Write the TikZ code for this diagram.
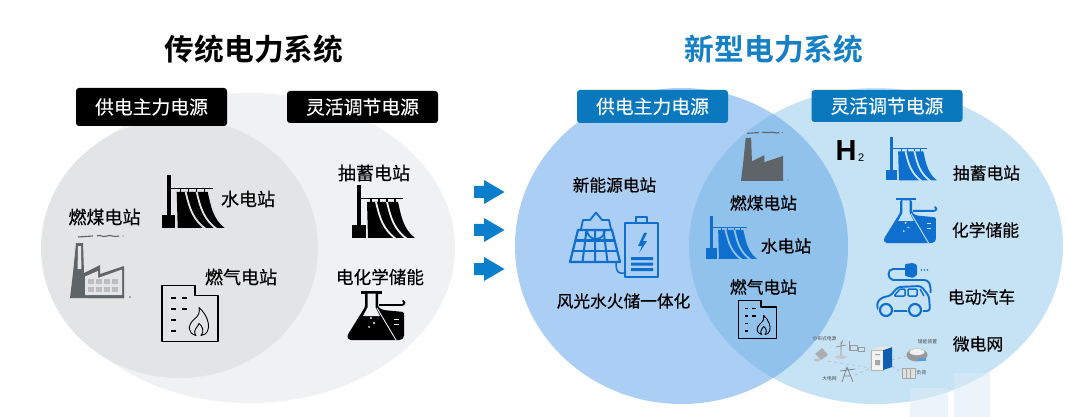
\documentclass[tikz,border=0pt]{standalone}
\usepackage{fontspec}
\setmainfont{Noto Sans CJK SC}[BoldFont={Noto Sans CJK SC Bold}]
\newfontfamily\medcjk{Noto Sans CJK SC}[FakeBold=0.45]
\newfontfamily\tagcjk{Noto Sans CJK SC}[FakeBold=0.2]
\newfontfamily\latinb{Liberation Sans Bold}
\newfontfamily\latinr{Liberation Sans}
\definecolor{gdark}{HTML}{E3E4E6}
\definecolor{glight}{HTML}{F0F1F3}
\definecolor{bleft}{HTML}{ABCFF4}
\definecolor{bright}{HTML}{C6E2F5}
\definecolor{boverlap}{HTML}{90C2EC}
\definecolor{badge}{HTML}{0A78BD}
\definecolor{iconblue}{HTML}{0F6FCF}
\definecolor{titleblue}{HTML}{1580C4}
\definecolor{facgray}{HTML}{5F6468}
\definecolor{arrowblue}{HTML}{0A80CC}
\definecolor{wmark}{HTML}{DCECF7}
\newcommand{\damicon}[5]{% x y scale colour bg
\begin{scope}[shift={(#1,#2)},scale=#3]
\fill[#4] (5,0) rectangle (9,42);
\fill[#4] (0,40) rectangle (13.5,53);
\fill[#4] (9,13) rectangle (51,14.5);
\foreach \q in {18,26,34,42}{\fill[#4] (\q,14) rectangle (\q+1.5,19);}
\fill[#4] (15,17) -- (46,17) .. controls (49,30) and (51,44) .. (63,53) -- (16,53) -- cycle;
\draw[#5,line width=1.8pt] (24,17) .. controls (28,34) and (31,44) .. (44,54);
\draw[#5,line width=1.8pt] (35,17) .. controls (39,34) and (42,44) .. (55,54);
\end{scope}}
\newcommand{\flaskicon}[5]{%
\begin{scope}[shift={(#1,#2)},scale=#3]
\fill[#4] (14,0) rectangle (35,2.6);
\fill[#4,rounded corners=1.5pt] (18,2) -- (18,16) -- (0,45) -- (2,49) -- (54,49) -- (57,46) -- (57,21) -- (36,19) -- (31,16) -- (31,2) -- cycle;
\fill[#5] (20.5,2.6) -- (28.5,2.6) -- (28.5,16.5) -- (33,25) -- (16,25) -- (20.5,16.5) -- cycle;
\fill[#5] (24,21) circle (.9) (24,27) circle (1.1) (27,32) circle (1.1) (22,36) circle (1);
\draw[#5,line width=.9pt] (30,17) -- (49,49);
\draw[#5,line width=1pt] (47,28) -- (52,28) (47,33) -- (52,33);
\draw[#4,line width=1.8pt] (32,14) -- (55,14) arc (90:-70:2.4);
\end{scope}}
\newcommand{\factoryicon}[5]{%
\begin{scope}[shift={(#1,#2)},scale=#3]
\fill[#4] (6,0) -- (13,0) -- (14,30) -- (30,22) -- (30,31) -- (54,23) -- (54,55) -- (0,55) -- (3,30) -- cycle;
\fill[#5] (8,3) -- (11,3) -- (11.4,26) -- (7.6,26) -- cycle;
\fill[#5] (15,33.5) -- (28,28) -- (28,35) -- (52,26.5) -- (52,52) -- (15,52) -- cycle;
\foreach \xa in {18,26,34,42}\foreach \ya in {36,44}{\fill[#4!30!#5] (\xa,\ya) rectangle +(5.5,4.5);}
\fill[#4] (18,52.5) rectangle (54,55) (60,54) circle (.8);
\draw[#4,line width=1.1pt] (8,-6) -- (23,-7);
\draw[#4,line width=1.1pt] (27,-7) .. controls (30,-9) and (33,-5) .. (37,-7) .. controls (40,-9) and (44,-5) .. (49,-7);
\fill[#4] (53,-7) circle (.7);
\end{scope}}
\newcommand{\buildingicon}[5]{%
\begin{scope}[shift={(#1,#2)},scale=#3]
\draw[#4,line width=1.7pt,line join=round] (0,0) -- (33,0) -- (33,10) -- (56,10) -- (56,56) -- (0,56) -- cycle;
\foreach \xa/\ya in {9/11,20/11,9/22,20/22,9/33,9/44}{\fill[#4] (\xa,\ya) rectangle +(5,2);}
\draw[#4,line width=.9pt,line join=round] (34,50) .. controls (26,48) and (25,40) .. (32,34) .. controls (37,30) and (38,27) .. (37,22) .. controls (44,28) and (48,38) .. (46,44) .. controls (45,48) and (42,50) .. (39,50) .. controls (43,46) and (40,40) .. (37,38) .. controls (36,42) and (30,44) .. (34,50) -- cycle;
\end{scope}}
\begin{document}
\begin{tikzpicture}[x=1pt,y=-1pt,
 lbl/.style={font=\medcjk\fontsize{#1}{#1}\selectfont,text=black,inner sep=0pt},
 lbl/.default=17,
 ttl/.style={font=\bfseries\fontsize{29.7}{30}\selectfont,inner sep=0pt},
 tag/.style={rounded corners=3pt,text=white,font=\tagcjk\fontsize{18.8}{19}\selectfont,minimum height=33pt,inner sep=0pt,text width=151pt,align=center},
 tiny/.style={font=\fontsize{4.8}{5}\selectfont,text=black!70,inner sep=0pt}]
\useasboundingbox (0,0) rectangle (1080,417);
\fill[white] (0,0) rectangle (1080,417);
% titles
\node[ttl] (tl) at (254,49) {传统电力系统};
\node[ttl,text=titleblue] (tr) at (774,49) {新型电力系统};
% left venn
\fill[glight] (250,248) ellipse [x radius=205,y radius=155];
\fill[gdark] (179.5,248) ellipse [x radius=138.5,y radius=130];
\node[tag,fill=black,minimum height=38pt] (t1) at (151.5,107) {供电主力电源};
\node[tag,fill=black,minimum height=32pt] (t2) at (362.5,107) {灵活调节电源};
\node[lbl=18] (a1) at (104.5,217) {燃煤电站};
\node[lbl=18] (a2) at (248,199) {水电站};
\node[lbl=18] (a3) at (241,277) {燃气电站};
\node[lbl=18] (a4) at (374,173) {抽蓄电站};
\node[lbl=17.6] (a5) at (380,277) {电化学储能};
\factoryicon{70}{243}{1}{facgray}{gdark}
\damicon{161.7}{175}{1}{black}{gdark}
\buildingicon{162}{285.5}{1}{black}{gdark}
\damicon{352}{185}{1}{black}{glight}
\flaskicon{347}{291}{1}{black}{glight}
% arrows
\foreach \n/\yy in {f1/192,f2/230,f3/269}{
 \fill[arrowblue] (474,\yy-6) -- (484,\yy-6) -- (484,\yy-12) -- (504.5,\yy) -- (484,\yy+12) -- (484,\yy+6) -- (474,\yy+6) -- cycle;}
% right venn
\fill[bright] (876,246) ellipse [x radius=187,y radius=158];
\fill[bleft] (681.5,246) ellipse [x radius=166.5,y radius=158];
\begin{scope}
\clip (876,246) ellipse [x radius=187,y radius=158];
\fill[boverlap] (681.5,246) ellipse [x radius=166.5,y radius=158];
\end{scope}
% watermark
\fill[wmark,opacity=.55] (910,388) rectangle (948,417) (954,373) rectangle (990,417);
\node[tag,fill=badge] (t3) at (652.5,106.5) {供电主力电源};
\node[tag,fill=badge,minimum height=32pt] (t4) at (887,106) {灵活调节电源};
\node[lbl=16.7] (b1) at (614.5,185) {新能源电站};
\node[lbl=16.7] (b2) at (623.5,301) {风光水火储一体化};
\node[lbl=16.8] (b3) at (763.5,203) {燃煤电站};
\node[lbl=16.8] (b4) at (786,246) {水电站};
\node[lbl=16.8] (b5) at (763.5,287) {燃气电站};
\node[lbl=16.8] (b6) at (986.5,173) {抽蓄电站};
\node[lbl=16.8] (b7) at (985.5,230) {化学储能};
\node[lbl=16.8] (b8) at (981.5,297) {电动汽车};
\node[lbl=16.8] (b9) at (978,344) {微电网};
\node[inner sep=0pt,anchor=west,font=\latinb\fontsize{29}{29}\selectfont] (h2) at (835.5,151) {H};
\node[inner sep=0pt,anchor=west,font=\latinr\fontsize{11}{11}\selectfont] (h2b) at (858,157.5) {2};
% new-energy icon
\begin{scope}[iconblue,line join=round]
 \draw[line width=2.2pt] (578,230) -- (612,230) -- (620,262) -- (570,262) -- cycle;
 \draw[line width=2pt] (575,240.5) -- (615,240.5) (572.5,251) -- (617.5,251);
 \draw[line width=2pt] (586.5,230) -- (582.5,262) (595,230) -- (595,262) (603.5,230) -- (607.5,262);
 \draw[line width=1.8pt] (581,229) -- (583,220) -- (590,220) -- (596,212.5) -- (602,220) -- (609,220) -- (611,229);
 \draw[line width=1.8pt] (587,230) arc (180:0:9);
 \draw[line width=2.2pt] (625,223) -- (658,223) -- (658,277) -- (625,277) -- cycle;
 \draw[line width=2.2pt] (636,223) -- (636,217) -- (647,217) -- (647,223);
 \fill (644,233) -- (638,246) -- (642,246) -- (639,253) -- (647,241) -- (643,241) -- (647,233) -- cycle;
 \fill (631,257) rectangle (653,260) (631,262.5) rectangle (653,265.5) (631,268) rectangle (653,271);
 \draw[line width=1.5pt] (616,263) .. controls (616,272) and (618,274) .. (625,273);
\end{scope}
% overlap icons
\factoryicon{741}{138}{.78}{facgray}{facgray}
\damicon{706}{216}{.81}{iconblue}{boverlap}
\buildingicon{738.5}{300.5}{.68}{black}{boverlap}
% right icons
\damicon{886}{137.5}{.81}{iconblue}{bright}
\flaskicon{883.5}{198}{.92}{iconblue}{bright}
% car icon
\begin{scope}[iconblue,line width=1.9pt,line join=round]
 \draw[fill=bright,rounded corners=3pt] (878,311) -- (877,302) -- (883,297) -- (890,296) -- (898,287) -- (921,286) -- (929,296) -- (930,311) -- cycle;
 \draw[line width=1.5pt,rounded corners=1pt] (894,296) -- (900,289) -- (905,289) -- (905,296) -- cycle (908,289) rectangle (917,296) (920,289) -- (924,296);
 \fill[bright] (886,310) circle (8) (915,310) circle (8);
 \draw[line width=2.2pt] (886,310) circle (6) (915,310) circle (6);
 \draw (930.5,293) .. controls (931,284) and (929,280) .. (924,280) -- (893,280) .. controls (887,279) and (887,269) .. (893,269) -- (905,269);
 \fill[rounded corners=1pt] (905,264) -- (913,263) -- (917,265) -- (917,275) -- (913,278) -- (905,276) -- cycle;
 \fill (921.5,270) circle (.8) (924.5,270) circle (.8) (927.5,270) circle (.8);
\end{scope}
% microgrid
\node[tiny] (m1) at (824.5,339) {分布式电源};
\node[tiny] (m2) at (927.5,342) {储能装置};
\node[tiny] (m3) at (829.5,379) {大电网};
\node[tiny] (m4) at (921.5,373) {负荷};
\begin{scope}[line join=round]
\draw[black!30,line width=.5pt,dashed] (828,361) -- (871,368) (855,375) -- (871,368) (892,366) -- (902,373) (892,360) -- (907,356);
\fill[black!32] (815,354) -- (822,348) -- (828,355) -- (821,360) -- cycle;
\fill[black!25] (817,360) ellipse (3 and 1.5);
\draw[black!45,line width=.7pt] (841,342) -- (841,356) (836,347) -- (846,345) (841,345) -- (843,340);
\fill[black!22] (841,357) ellipse (6 and 1.7);
\draw[black!40,line width=.6pt] (849,341) -- (849,351) (850,345) rectangle (857,350) (858,347) rectangle (864,351);
\fill[white!90!gray] (871,350) -- (883,350) -- (883,370) -- (871,370) -- cycle;
\draw[black!30,line width=.4pt] (871,350) -- (883,350) -- (883,370) -- (871,370) -- cycle;
\fill[iconblue!85!black] (883,350) -- (892,347) -- (892,367) -- (883,370) -- cycle;
\fill[black!10] (871,350) -- (883,350) -- (892,347) -- (880,346.5) -- cycle;
\fill[black!35] (875,354) rectangle (880,355) (875,360) rectangle (880,365);
\draw[black!50,line width=.7pt] (842,382) -- (847,367) -- (853,382) (840,371) -- (855,369) (844,376) -- (851,376);
\fill[black!40] (917,355) ellipse (10.5 and 6.5);
\fill[gray!12] (917,352) ellipse (7.5 and 3.2);
\fill[iconblue!70] (918,358) rectangle (926,361);
\fill[black!12] (902,368) rectangle (915,378);
\draw[black!35,line width=.4pt] (902,368) rectangle (915,378) (906,368) -- (906,378) (910,368) -- (910,378);
\end{scope}
\end{tikzpicture}
\end{document}
